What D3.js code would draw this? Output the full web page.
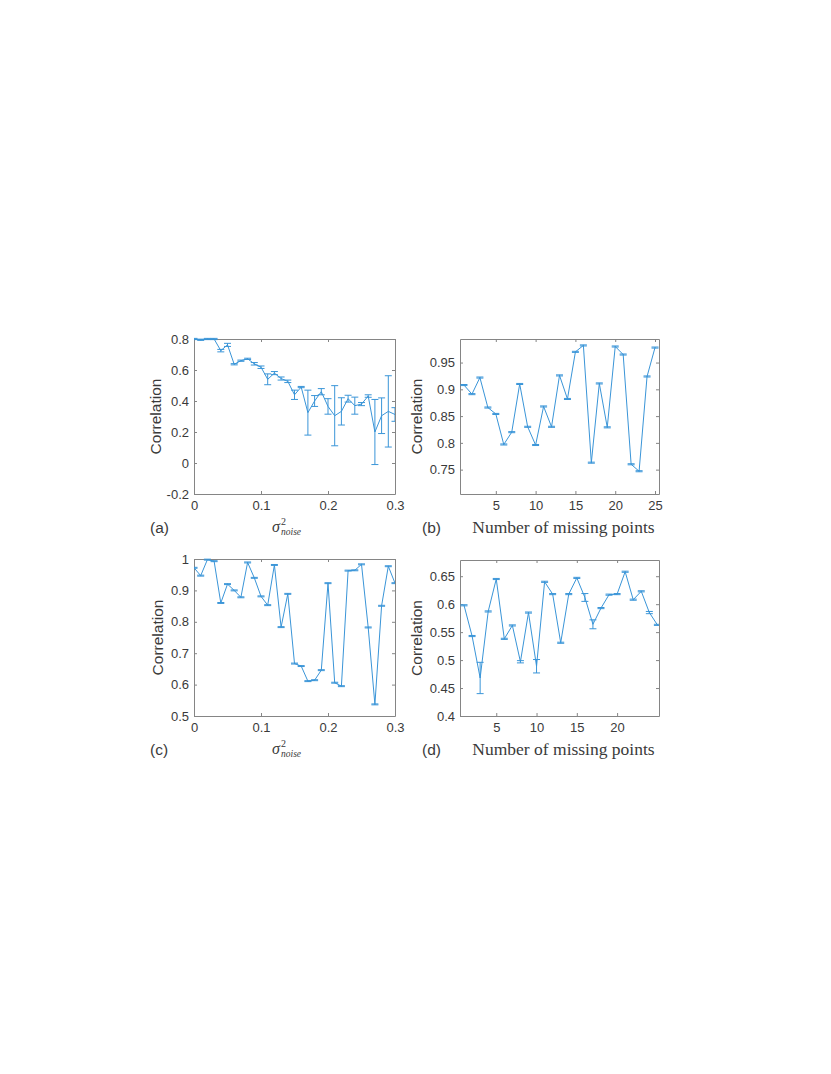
<!DOCTYPE html>
<html><head><meta charset="utf-8">
<script src="https://cdn.jsdelivr.net/npm/d3@7"></script>
<style>body{margin:0;background:#fff}</style>
</head><body><svg id="chart" width="831" height="1074"></svg>
<script>
// ---------- data ----------
const noiseX = [0,0.01,0.02,0.03,0.04,0.05,0.06,0.07,0.08,0.09,0.10,0.11,0.12,0.13,0.14,0.15,0.16,0.17,0.18,0.19,0.20,0.21,0.22,0.23,0.24,0.25,0.26,0.27,0.28,0.29,0.30];
const aMean = [0.80,0.795,0.80,0.80,0.725,0.762,0.637,0.66,0.672,0.64,0.618,0.54,0.58,0.545,0.527,0.44,0.49,0.325,0.40,0.46,0.365,0.305,0.333,0.415,0.37,0.38,0.432,0.20,0.305,0.333,0.313];
const aErr  = [0.004,0.004,0.004,0.004,0.008,0.01,0.004,0.004,0.004,0.008,0.008,0.035,0.01,0.01,0.008,0.03,0.004,0.145,0.035,0.02,0.05,0.194,0.088,0.022,0.055,0.01,0.008,0.21,0.115,0.23,0.044];

const missX = [1,2,3,4,5,6,7,8,9,10,11,12,13,14,15,16,17,18,19,20,21,22,23,24,25];
const bMean = [0.908,0.891,0.922,0.866,0.854,0.797,0.82,0.91,0.83,0.796,0.868,0.83,0.926,0.882,0.97,0.982,0.763,0.911,0.829,0.98,0.965,0.76,0.747,0.924,0.978];
const bErr  = [0.001,0.001,0.001,0.001,0.001,0.001,0.001,0.001,0.001,0.001,0.001,0.001,0.001,0.001,0.001,0.001,0.001,0.001,0.001,0.001,0.001,0.001,0.001,0.001,0.001];

const cMean = [0.972,0.947,0.998,0.993,0.86,0.92,0.9,0.878,0.989,0.94,0.881,0.853,0.981,0.783,0.889,0.667,0.659,0.611,0.614,0.646,0.923,0.606,0.595,0.963,0.964,0.983,0.782,0.537,0.851,0.977,0.923];
const cErr  = [0.0015,0.0015,0.0015,0.0015,0.0015,0.0015,0.0015,0.0015,0.0015,0.0015,0.0015,0.0015,0.0015,0.0015,0.0015,0.0015,0.0015,0.0015,0.0015,0.0015,0.0015,0.0015,0.0015,0.0015,0.0015,0.0015,0.0015,0.0015,0.0015,0.0015,0.0015];

const dMean = [0.598,0.543,0.468,0.587,0.645,0.538,0.562,0.497,0.585,0.489,0.64,0.618,0.531,0.618,0.647,0.612,0.564,0.593,0.617,0.618,0.658,0.608,0.623,0.585,0.563];
const dErr  = [0.001,0.001,0.028,0.001,0.001,0.001,0.001,0.002,0.001,0.012,0.001,0.001,0.001,0.001,0.001,0.007,0.008,0.001,0.001,0.001,0.001,0.001,0.001,0.002,0.001];

const aTicksY = [-0.2,0,0.2,0.4,0.6,0.8];
const noiseTicks = [0,0.1,0.2,0.3];
const bTicksY = [0.75,0.8,0.85,0.9,0.95];
const bTicksX = [5,10,15,20,25];
const cTicksY = [0.5,0.6,0.7,0.8,0.9,1];
const dTicksY = [0.4,0.45,0.5,0.55,0.6,0.65];
const dTicksX = [5,10,15,20];
const panelLetters = ["(a)","(b)","(c)","(d)"];
const yLabel = "Correlation";
const missLabel = "Number of missing points";

// ---------- drawing ----------
const svg = d3.select("#chart");
const LINE = "#3a95d8";
const AX = "#858585";
const TXT = "#3a3a3a";

const panels = [
  {id:"a", xs:noiseX, ys:aMean, es:aErr, xd:[0,0.3], yd:[-0.2,0.8], xt:noiseTicks, yt:aTicksY,
   l:194, r:395, t:339, b:494, letter:panelLetters[0], ylx:155, xlabel:"sigma"},
  {id:"b", xs:missX, ys:bMean, es:bErr, xd:[0.5,25.5], yd:[0.7045,0.994], xt:bTicksX, yt:bTicksY,
   l:460, r:659, t:339, b:494, letter:panelLetters[1], ylx:416, xlabel:"miss"},
  {id:"c", xs:noiseX, ys:cMean, es:cErr, xd:[0,0.3], yd:[0.5,1], xt:noiseTicks, yt:cTicksY,
   l:194, r:395, t:559, b:716, letter:panelLetters[2], ylx:157, xlabel:"sigma"},
  {id:"d", xs:missX, ys:dMean, es:dErr, xd:[0.5,25.2], yd:[0.4,0.679], xt:dTicksX, yt:dTicksY,
   l:460, r:659, t:560, b:716, letter:panelLetters[3], ylx:416, xlabel:"miss"}
];

const fmt = d => String(d);

panels.forEach(p => {
  const x = d3.scaleLinear().domain(p.xd).range([p.l, p.r]);
  const y = d3.scaleLinear().domain(p.yd).range([p.b, p.t]);
  const g = svg.append("g");

  const styleAxis = sel => {
    sel.select(".domain").attr("stroke", AX).attr("stroke-width", 1);
    sel.selectAll(".tick line").attr("stroke", AX);
    sel.selectAll(".tick text").attr("fill", TXT)
      .style("font-family", "'Liberation Sans', Arial, sans-serif").style("font-size", "13px");
  };

  g.append("g").attr("transform", `translate(0,${p.b})`)
    .call(d3.axisBottom(x).tickValues(p.xt).tickFormat(fmt).tickSizeInner(-3).tickSizeOuter(0).tickPadding(7))
    .call(styleAxis);
  g.append("g").attr("transform", `translate(0,${p.t})`)
    .call(d3.axisTop(x).tickValues(p.xt).tickFormat("").tickSizeInner(-3).tickSizeOuter(0))
    .call(styleAxis);
  g.append("g").attr("transform", `translate(${p.l},0)`)
    .call(d3.axisLeft(y).tickValues(p.yt).tickFormat(fmt).tickSizeInner(-3).tickSizeOuter(0).tickPadding(5))
    .call(styleAxis);
  g.append("g").attr("transform", `translate(${p.r},0)`)
    .call(d3.axisRight(y).tickValues(p.yt).tickFormat("").tickSizeInner(-3).tickSizeOuter(0))
    .call(styleAxis);

  svg.append("clipPath").attr("id", "clip-" + p.id)
    .append("rect").attr("x", p.l).attr("y", p.t - 2).attr("width", p.r - p.l).attr("height", p.b - p.t + 4);
  const dg = g.append("g").attr("clip-path", `url(#clip-${p.id})`);

  const pts = p.xs.map((xv, i) => ({x: xv, m: p.ys[i], e: p.es[i]}));

  dg.append("path").datum(pts)
    .attr("fill", "none").attr("stroke", LINE).attr("stroke-width", 1)
    .attr("d", d3.line().x(d => x(d.x)).y(d => y(d.m)));

  const eb = dg.selectAll("g.eb").data(pts).join("g").attr("class", "eb")
    .attr("stroke", LINE).attr("stroke-width", 1);
  eb.append("line").attr("x1", d => x(d.x)).attr("x2", d => x(d.x))
    .attr("y1", d => y(d.m - d.e)).attr("y2", d => y(d.m + d.e));
  eb.append("line").attr("x1", d => x(d.x) - 3.5).attr("x2", d => x(d.x) + 3.5)
    .attr("y1", d => y(d.m - d.e)).attr("y2", d => y(d.m - d.e));
  eb.append("line").attr("x1", d => x(d.x) - 3.5).attr("x2", d => x(d.x) + 3.5)
    .attr("y1", d => y(d.m + d.e)).attr("y2", d => y(d.m + d.e));

  g.append("text")
    .attr("transform", `translate(${p.ylx},${(p.t + p.b) / 2}) rotate(-90)`)
    .attr("text-anchor", "middle").attr("dominant-baseline", "central")
    .attr("fill", TXT).style("font-family", "'Liberation Sans', Arial, sans-serif").style("font-size", "15.5px")
    .text(yLabel);

  const lx = p.l < 300 ? 150 : 422;
  g.append("text").attr("x", lx).attr("y", p.b + 39)
    .attr("fill", TXT).style("font-family", "'Liberation Sans', Arial, sans-serif").style("font-size", "15.5px")
    .text(p.letter);

  if (p.xlabel === "miss") {
    g.append("text").attr("x", (p.l + p.r) / 2 + 4).attr("y", p.b + 39)
      .attr("text-anchor", "middle").attr("fill", TXT)
      .style("font-family", "'Liberation Serif', 'Times New Roman', serif").style("font-size", "17.5px")
      .text(missLabel);
  } else {
    const sx = 272, by = p.b + 38;
    const tg = g.append("text").attr("fill", TXT)
      .style("font-family", "'Liberation Serif', 'Times New Roman', serif").style("font-style", "italic");
    tg.append("tspan").attr("x", sx).attr("y", by).style("font-size", "16px").text("σ");
    tg.append("tspan").attr("x", sx + 9).attr("y", by - 7).style("font-size", "10px").style("font-style", "normal").text("2");
    tg.append("tspan").attr("x", sx + 9).attr("y", by + 3).style("font-size", "9.5px").text("noise");
  }
});
</script>
</body></html>
